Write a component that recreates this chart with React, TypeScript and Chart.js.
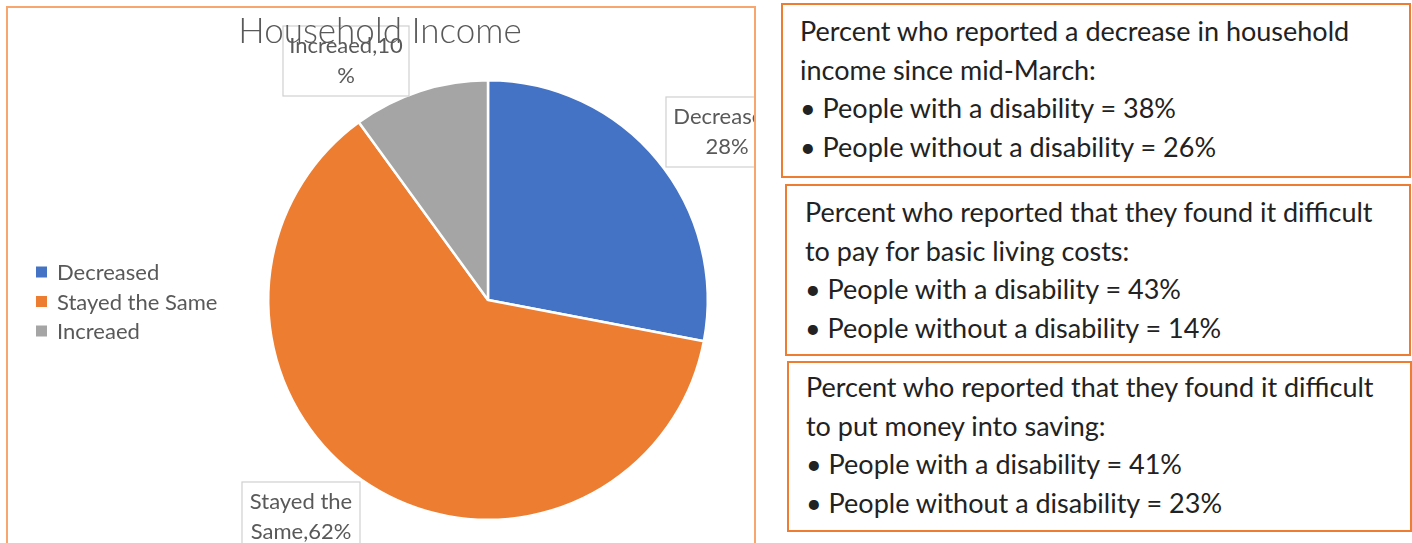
import React, { useEffect, useRef } from "react";
import { Chart, registerables } from "chart.js";

Chart.register(...registerables);

// ---- data ----
const chartTitle = "Household Income";
const categories = ["Decreased", "Stayed the Same", "Increaed"];
const values = [28, 62, 10];
const sliceColors = ["#4472C4", "#ED7D31", "#A5A5A5"];
// character index where each data label wraps onto its second line
const labelBreaks = [10, 10, 11];

const noteHeadings = [
  ["Percent who reported a decrease in household", "income since mid-March:"],
  ["Percent who reported that they found it difficult", "to pay for basic living costs:"],
  ["Percent who reported that they found it difficult", "to put money into saving:"],
];
const withDisability = [38, 43, 41];
const withoutDisability = [26, 14, 23];

// ---- layout (not data) ----
const FONT = "Lato, 'Open Sans', sans-serif";
const TEXT_GREY = "#595959";
const titlePos = { x: 380, y: 32, size: 35 };
const legendPos = { x: 36, y: 272, step: 29.5, box: 11, textX: 57, size: 22 };
const labelFontSize = 22;
const labelOffsets = [
  { dx: 239, dy: -168, w: 122 },
  { dx: -187, dy: 217, w: 118 },
  { dx: -142, dy: -239, w: 126 },
];
const labelBoxH = 70;
const labelLineGap = 15;
const noteBoxes = [
  { left: 781, top: 3, width: 630, height: 175, padL: 17, padT: 7 },
  { left: 785, top: 184, width: 626, height: 172, padL: 18, padT: 7 },
  { left: 787, top: 361, width: 625, height: 171, padL: 17, padT: 5 },
];

const overlay = {
  id: "overlay",
  afterDraw(chart: any) {
    const ctx: CanvasRenderingContext2D = chart.ctx;
    const meta = chart.getDatasetMeta(0);
    const cx = meta.data[0].x;
    const cy = meta.data[0].y;
    const labels: string[] = chart.data.labels;
    const data: number[] = chart.data.datasets[0].data;
    const colors: string[] = chart.data.datasets[0].backgroundColor;

    ctx.save();
    // data labels
    ctx.font = `${labelFontSize}px ${FONT}`;
    ctx.textAlign = "center";
    ctx.textBaseline = "middle";
    labels.forEach((lab, i) => {
      const full = `${lab},${data[i]}%`;
      const lines = [full.slice(0, labelBreaks[i]).trim(), full.slice(labelBreaks[i]).trim()];
      const o = labelOffsets[i];
      const bx = cx + o.dx;
      const by = cy + o.dy;
      ctx.fillStyle = "#ffffff";
      ctx.fillRect(bx - o.w / 2, by - labelBoxH / 2, o.w, labelBoxH);
      ctx.strokeStyle = "#D0D0D0";
      ctx.lineWidth = 1.2;
      ctx.strokeRect(bx - o.w / 2, by - labelBoxH / 2, o.w, labelBoxH);
      ctx.fillStyle = TEXT_GREY;
      ctx.fillText(lines[0], bx, by - labelLineGap);
      ctx.fillText(lines[1], bx, by + labelLineGap);
    });

    // legend
    ctx.font = `${legendPos.size}px ${FONT}`;
    ctx.textAlign = "left";
    labels.forEach((lab, i) => {
      const y = legendPos.y + i * legendPos.step;
      ctx.fillStyle = colors[i];
      ctx.fillRect(legendPos.x, y - legendPos.box / 2, legendPos.box, legendPos.box);
      ctx.fillStyle = TEXT_GREY;
      ctx.fillText(lab, legendPos.textX, y + 1);
    });

    // title
    ctx.textAlign = "center";
    ctx.font = `300 ${titlePos.size}px ${FONT}`;
    ctx.fillStyle = TEXT_GREY;
    ctx.fillText(chartTitle, titlePos.x, titlePos.y);
    ctx.restore();
  },
};

export default function App() {
  const ref = useRef<HTMLCanvasElement>(null);
  useEffect(() => {
    document.body.style.margin = "0";
    const chart = new Chart(ref.current as HTMLCanvasElement, {
      type: "pie",
      data: {
        labels: categories,
        datasets: [
          {
            data: values,
            backgroundColor: sliceColors,
            borderColor: "#ffffff",
            borderWidth: 2.5,
          },
        ],
      },
      options: {
        responsive: false,
        animation: false,
        layout: { padding: { left: 267, top: 79, right: 47, bottom: 22 } },
        plugins: {
          legend: { display: false },
          title: { display: false },
          tooltip: { enabled: false },
        },
      },
      plugins: [overlay],
    });
    return () => chart.destroy();
  }, []);

  return (
    <div
      style={{
        position: "fixed",
        left: 0,
        top: 0,
        width: 1412,
        height: 543,
        background: "#ffffff",
        overflow: "hidden",
        fontFamily: FONT,
      }}
    >
      <canvas
        ref={ref}
        width={756}
        height={543}
        style={{ position: "absolute", left: 0, top: 0, width: 756, height: 543 }}
      />
      <div
        style={{
          position: "absolute",
          left: 6,
          top: 6,
          width: 750,
          height: 600,
          boxSizing: "border-box",
          border: "2px solid #F6A66E",
          pointerEvents: "none",
        }}
      />
      {noteBoxes.map((b, i) => (
        <div
          key={i}
          style={{
            position: "absolute",
            left: b.left,
            top: b.top,
            width: b.width,
            height: b.height,
            boxSizing: "border-box",
            border: "2px solid #ED7D31",
            paddingLeft: b.padL,
            paddingTop: b.padT,
            fontSize: 27,
            lineHeight: "38.5px",
            color: "#222222",
            whiteSpace: "nowrap",
          }}
        >
          <div>{noteHeadings[i][0]}</div>
          <div>{noteHeadings[i][1]}</div>
          <div>• People with a disability = {withDisability[i]}%</div>
          <div>• People without a disability = {withoutDisability[i]}%</div>
        </div>
      ))}
    </div>
  );
}
